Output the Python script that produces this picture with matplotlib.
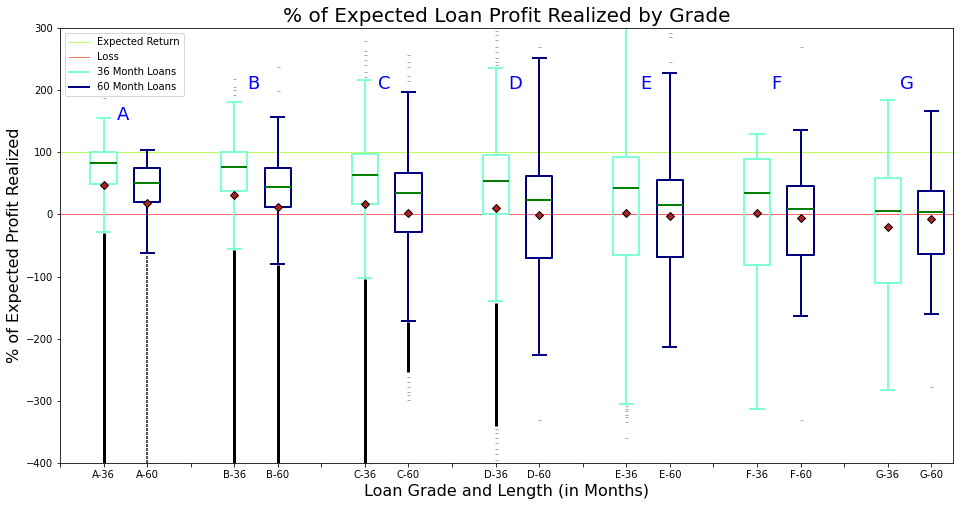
import matplotlib
matplotlib.use("Agg")
import matplotlib.pyplot as plt
from matplotlib.lines import Line2D

# values (% of expected profit realized)
labels = ['A-36', 'A-60', 'B-36', 'B-60', 'C-36', 'C-60', 'D-36', 'D-60',
          'E-36', 'E-60', 'F-36', 'F-60', 'G-36', 'G-60']
whislo = [-28, -62, -56, -79, -102, -171, -140, -226, -305, -213, -313, -163, -282, -160]
q1 = [49, 20, 38, 12, 17, -28, 1, -70, -66, -68, -81, -65, -111, -63]
med = [83, 51, 76, 44, 63, 35, 54, 24, 43, 15, 35, 9, 6, 4]
q3 = [100, 75, 100, 75, 98, 67, 96, 62, 93, 56, 90, 46, 59, 37]
whishi = [155, 104, 181, 156, 217, 197, 236, 251, 330, 228, 130, 136, 184, 166]
means = [47, 18, 32, 12, 16, 3, 10, -1, 3, -3, 2, -5, -21, -8]

# single outliers that can be told apart
fliers = [
    [187],
    [],
    [192, 200, 205, 218],
    [198, 238],
    [221, 230, 240, 248, 256, 263, 279],
    [214, 222, 237, 245, 256, -262, -270, -278, -285, -291, -298],
    [240, 246, 252, 262, 270, 280, 288, 295, -345, -352, -360, -368, -377, -386, -395],
    [270, -330],
    [-309, -313, -317, -322, -326, -334, -360],
    [245, 286, 292],
    [],
    [270, -330],
    [],
    [-277],
]

# outliers packed so tightly they form a column (top, bottom); None = no column
dense_top = [-30, -65, -58, -81, -104, -173, -142, None, None, None, None, None, None, None]
dense_bot = [-400, -400, -400, -400, -400, -253, -340, None, None, None, None, None, None, None]
dense_solid = [True, False, True, True, True, True, True, False, False, False, False, False, False, False]

grades = ['A', 'B', 'C', 'D', 'E', 'F', 'G']
grade_label_y = [160, 210, 210, 210, 210, 210, 210]

positions = []
for i in range(len(grades)):
    positions += [3 * i + 1, 3 * i + 2]

stats = []
for i in range(len(labels)):
    stats.append({'label': labels[i], 'whislo': whislo[i], 'q1': q1[i], 'med': med[i],
                  'q3': q3[i], 'whishi': whishi[i], 'mean': means[i], 'fliers': fliers[i]})

col36 = 'aquamarine'
col60 = 'navy'

fig = plt.figure(figsize=(963 / 72, 506 / 72), dpi=72)
ax = fig.add_axes([60 / 963, 1 - 463 / 506, 893 / 963, 435 / 506])

# dense outlier columns
for i in range(len(labels)):
    if dense_top[i] is None:
        continue
    if dense_solid[i]:
        ax.vlines(positions[i], dense_bot[i], dense_top[i], color='black', lw=3, zorder=1)
    else:
        ax.vlines(positions[i], dense_bot[i], dense_top[i], color='#555555', lw=2,
                  linestyles=(0, (1.5, 0.5)), zorder=1)

for k, col in [(0, col36), (1, col60)]:
    ax.bxp(stats[k::2], positions=positions[k::2], widths=0.6, showmeans=True,
           boxprops=dict(color=col, lw=2),
           whiskerprops=dict(color=col, lw=2),
           capprops=dict(color=col, lw=2),
           medianprops=dict(color='green', lw=2),
           meanprops=dict(marker='D', markerfacecolor='firebrick', markeredgecolor='black',
                          markersize=6),
           flierprops=dict(marker='_', markeredgecolor='gray', markersize=3, alpha=0.7))

ax.axhline(100, color='greenyellow', lw=1, alpha=0.8, label='Expected Return', zorder=0)
ax.axhline(0, color='red', lw=1, alpha=0.6, label='Loss', zorder=0)

for i, g in enumerate(grades):
    ax.text(3 * i + 1.45, grade_label_y[i], g, color='blue', fontsize=18,
            ha='center', va='center')

ticks = list(range(0, 21))
tick_labels = [''] * 21
for p, l in zip(positions, labels):
    tick_labels[p] = l
ax.set_xticks(ticks)
ax.set_xticklabels(tick_labels, fontsize=10)
ax.tick_params(axis='y', labelsize=10)
ax.set_xlim(0, 20.5)
ax.set_ylim(-400, 300)

handles = [Line2D([], [], color='greenyellow', lw=1, alpha=0.8),
           Line2D([], [], color='red', lw=1, alpha=0.6),
           Line2D([], [], color=col36, lw=2),
           Line2D([], [], color=col60, lw=2)]
ax.legend(handles, ['Expected Return', 'Loss', '36 Month Loans', '60 Month Loans'],
          loc='upper left', fontsize=10)

ax.set_title('% of Expected Loan Profit Realized by Grade', fontsize=20)
ax.set_xlabel('Loan Grade and Length (in Months)', fontsize=16)
ax.set_ylabel('% of Expected Profit Realized', fontsize=16)

fig.savefig('out.png', dpi=72)
